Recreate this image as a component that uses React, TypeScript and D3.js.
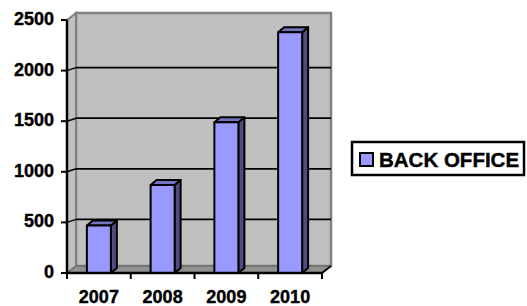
import React, { useEffect, useRef } from 'react';
import * as d3 from 'd3';

const years = ['2007', '2008', '2009', '2010'];
const backOffice = [470, 870, 1490, 2380];
const yTicks = [0, 500, 1000, 1500, 2000, 2500];
const seriesName = 'BACK OFFICE';

const W = 527;
const H = 306;

export default function App() {
  const ref = useRef<SVGSVGElement>(null);

  useEffect(() => {
    const svg = d3.select(ref.current);
    svg.selectAll('*').remove();

    const left = 67;
    const right = 322;
    const dx = 9; // depth offset of walls
    const dy = -7;
    const gdy = -3; // gridline offset on back wall
    const font = 'Liberation Sans, Arial, sans-serif';

    const x = d3.scaleBand().domain(years).range([left, right]).paddingInner(0).paddingOuter(0);
    const y = d3.scaleLinear().domain([0, 2500]).range([273, 20]);

    const g = svg.append('g');

    // back wall
    g.append('rect')
      .attr('x', left + dx)
      .attr('y', y(2500) + dy)
      .attr('width', right - left)
      .attr('height', y(0) - y(2500))
      .attr('fill', '#c0c0c0')
      .attr('stroke', '#808080')
      .attr('stroke-width', 2.5);

    // side wall
    g.append('polygon')
      .attr('points', [
        [left, y(2500)], [left + dx, y(2500) + dy], [left + dx, y(0) + dy], [left, y(0)],
      ].map(p => p.join(',')).join(' '))
      .attr('fill', '#c0c0c0')
      .attr('stroke', '#808080')
      .attr('stroke-width', 2);

    // floor
    g.append('polygon')
      .attr('points', [
        [left, y(0)], [left + dx, y(0) + dy], [right + dx, y(0) + dy], [right, y(0)],
      ].map(p => p.join(',')).join(' '))
      .attr('fill', '#909090')
      .attr('stroke', '#606060')
      .attr('stroke-width', 1);

    // gridlines
    yTicks.filter(v => v > 0 && v < 2500).forEach(v => {
      g.append('line')
        .attr('x1', left + dx).attr('x2', right + dx)
        .attr('y1', y(v) + gdy).attr('y2', y(v) + gdy)
        .attr('stroke', '#000').attr('stroke-width', 1.8);
      g.append('line')
        .attr('x1', left).attr('x2', left + dx)
        .attr('y1', y(v)).attr('y2', y(v) + gdy)
        .attr('stroke', '#000').attr('stroke-width', 1.5);
    });

    // bars
    const bw = 24;
    const bdx = 6;
    const bdy = -5;
    backOffice.forEach((v, i) => {
      const cx = (x(years[i]) || 0) + x.bandwidth() / 2;
      const x0 = cx - bw / 2;
      const x1 = cx + bw / 2;
      const yt = y(v);
      const yb = y(0);
      const bar = g.append('g')
        .attr('stroke', '#000')
        .attr('stroke-width', 2)
        .attr('stroke-linejoin', 'round');
      bar.append('polygon')
        .attr('points', [[x1, yt], [x1 + bdx, yt + bdy], [x1 + bdx, yb + bdy], [x1, yb]].map(p => p.join(',')).join(' '))
        .attr('fill', '#4d4d80');
      bar.append('polygon')
        .attr('points', [[x0, yt], [x0 + bdx, yt + bdy], [x1 + bdx, yt + bdy], [x1, yt]].map(p => p.join(',')).join(' '))
        .attr('fill', '#7373bf');
      bar.append('rect')
        .attr('x', x0).attr('y', yt)
        .attr('width', bw).attr('height', yb - yt)
        .attr('fill', '#9999ff');
    });

    // y axis
    g.append('line')
      .attr('x1', left).attr('x2', left)
      .attr('y1', y(2500)).attr('y2', y(0))
      .attr('stroke', '#000').attr('stroke-width', 2.5);
    yTicks.forEach(v => {
      g.append('line')
        .attr('x1', left - 6).attr('x2', left)
        .attr('y1', y(v)).attr('y2', y(v))
        .attr('stroke', '#000').attr('stroke-width', 2);
      g.append('text')
        .attr('x', 54)
        .attr('y', y(v) + 5)
        .attr('text-anchor', 'end')
        .attr('font-family', font)
        .attr('font-weight', 'bold')
        .attr('font-size', 18)
        .attr('stroke', '#000')
        .attr('stroke-width', 0.4)
        .text(String(v));
    });

    // x axis
    g.append('line')
      .attr('x1', left).attr('x2', right)
      .attr('y1', y(0)).attr('y2', y(0))
      .attr('stroke', '#000').attr('stroke-width', 2.5);
    g.append('line')
      .attr('x1', right).attr('x2', right + dx)
      .attr('y1', y(0)).attr('y2', y(0) + dy)
      .attr('stroke', '#000').attr('stroke-width', 2);
    [...years.map(c => x(c) || 0), right].forEach(px => {
      g.append('line')
        .attr('x1', px).attr('x2', px)
        .attr('y1', y(0)).attr('y2', y(0) + 6)
        .attr('stroke', '#000').attr('stroke-width', 2);
    });
    years.forEach(c => {
      g.append('text')
        .attr('x', (x(c) || 0) + x.bandwidth() / 2)
        .attr('y', 303)
        .attr('text-anchor', 'middle')
        .attr('font-family', font)
        .attr('font-weight', 'bold')
        .attr('font-size', 18)
        .attr('stroke', '#000')
        .attr('stroke-width', 0.4)
        .text(c);
    });

    // legend
    const lg = svg.append('g');
    lg.append('rect')
      .attr('x', 352).attr('y', 142)
      .attr('width', 172).attr('height', 33)
      .attr('fill', '#fff')
      .attr('stroke', '#000').attr('stroke-width', 2.5);
    lg.append('rect')
      .attr('x', 360).attr('y', 153)
      .attr('width', 13).attr('height', 13)
      .attr('fill', '#9999ff')
      .attr('stroke', '#000').attr('stroke-width', 2);
    lg.append('text')
      .attr('x', 379).attr('y', 167)
      .attr('font-family', font)
      .attr('font-weight', 'bold')
      .attr('font-size', 20.5)
      .attr('stroke', '#000')
      .attr('stroke-width', 0.4)
      .text(seriesName);
  }, []);

  return (
    <svg
      ref={ref}
      width={W}
      height={H}
      style={{ position: 'absolute', left: 0, top: 0, background: '#fff' }}
    />
  );
}
